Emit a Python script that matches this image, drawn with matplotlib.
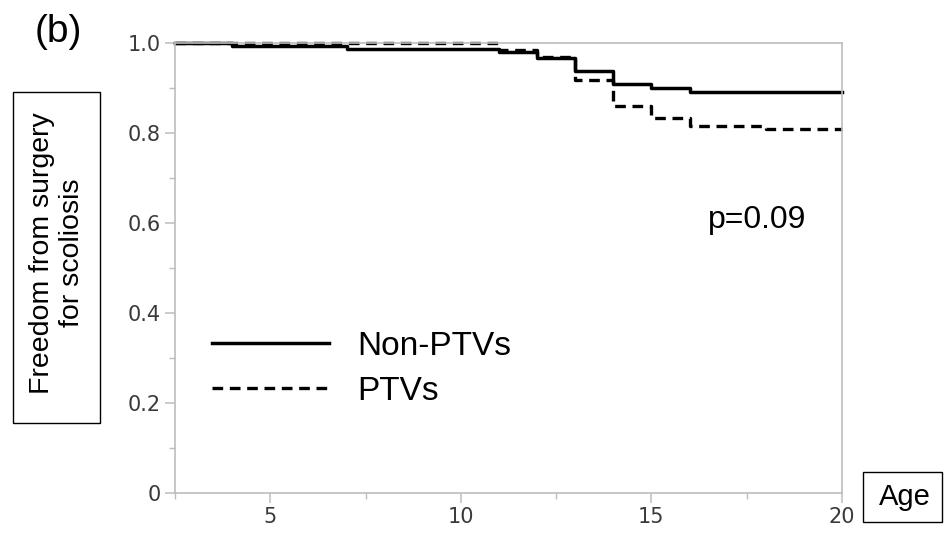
import matplotlib
matplotlib.use('Agg')
import matplotlib.pyplot as plt
from matplotlib.patches import Rectangle

# Kaplan-Meier step data
age_non_ptv = [2.5, 4, 7, 11, 12, 13, 14, 15, 16, 20]
surv_non_ptv = [1.0, 0.993, 0.987, 0.979, 0.966, 0.938, 0.910, 0.901, 0.892, 0.892]

age_ptv = [2.5, 11, 12, 13, 14, 15, 16, 18, 20]
surv_ptv = [1.0, 0.985, 0.968, 0.918, 0.860, 0.834, 0.816, 0.809, 0.809]

x_ticks = [5, 10, 15, 20]
y_ticks = [0, 0.2, 0.4, 0.6, 0.8, 1.0]
y_tick_labels = ['0', '0.2', '0.4', '0.6', '0.8', '1.0']

W, H = 944, 537
fig = plt.figure(figsize=(W / 100, H / 100), dpi=100)
ax = fig.add_axes([175 / W, 1 - 493 / H, (842 - 175) / W, (493 - 43) / H])

ax.step(age_non_ptv, surv_non_ptv, where='post', color='black', lw=2.5,
        label='Non-PTVs', clip_on=False)
ax.step(age_ptv, surv_ptv, where='post', color='black', lw=2.4,
        dashes=(3.2, 2.0), label='PTVs', clip_on=False)

ax.set_xlim(2.5, 20)
ax.set_ylim(0, 1.0)
ax.set_xticks(x_ticks)
ax.set_xticks([2.5, 7.5, 12.5, 17.5], minor=True)
ax.set_yticks(y_ticks)
ax.set_yticklabels(y_tick_labels)
ax.set_yticks([0.1, 0.3, 0.5, 0.7, 0.9], minor=True)

grey = '#bdbdbd'
for s in ax.spines.values():
    s.set_color(grey)
    s.set_linewidth(1.2)
ax.tick_params(which='major', length=7, width=1.1, color=grey,
               labelsize=15, labelcolor='#3a3a3a', pad=3)
ax.tick_params(which='minor', length=4, width=1.0, color=grey)

fontname = 'Liberation Sans'

leg = ax.legend(loc='center left', bbox_to_anchor=(212 / W, 1 - 369 / H),
                bbox_transform=fig.transFigure, frameon=False,
                prop={'family': fontname, 'size': 24},
                handlelength=3.5, handletextpad=0.85, labelspacing=0.42,
                borderpad=0, borderaxespad=0)

fig.text(757 / W, 1 - 220 / H, 'p=0.09', family=fontname, fontsize=23,
         ha='center', va='center')
fig.text(58 / W, 1 - 32 / H, '(b)', family=fontname, fontsize=28,
         ha='center', va='center')

# y label in a box
fig.add_artist(Rectangle((13 / W, 1 - 423 / H), 87 / W, 331 / H,
                         transform=fig.transFigure, fill=False,
                         edgecolor='black', lw=1.0))
fig.text(57 / W, 1 - 253 / H, 'Freedom from surgery\nfor scoliosis',
         family=fontname, fontsize=20.5, rotation=90,
         ha='center', va='center', multialignment='center')

# x label in a box
fig.add_artist(Rectangle((863 / W, 1 - 522 / H), 79 / W, 50 / H,
                         transform=fig.transFigure, fill=False,
                         edgecolor='black', lw=1.0))
fig.text(905 / W, 1 - 497 / H, 'Age', family=fontname, fontsize=21,
         ha='center', va='center')

fig.savefig('out.png', dpi=100)
